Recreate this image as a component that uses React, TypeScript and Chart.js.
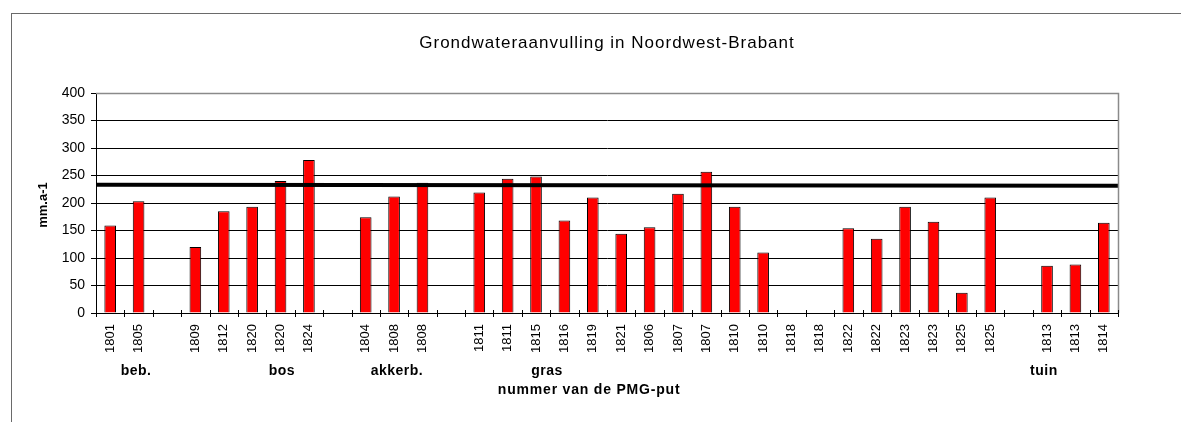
import { useEffect, useRef } from "react";
import { Chart, registerables } from "chart.js";

Chart.register(...registerables);

// ---- data ----
const categories: string[] = [
  "1801", "1805", "", "1809", "1812", "1820", "1820", "1824", "",
  "1804", "1808", "1808", "", "1811", "1811", "1815", "1816", "1819",
  "1821", "1806", "1807", "1807", "1810", "1810", "1818", "1818", "1822",
  "1822", "1823", "1823", "1825", "1825", "", "1813", "1813", "1814",
];

const recharge: (number | null)[] = [
  159, 203, null, 120, 185, 193, 240, 278, null,
  174, 212, 237, null, 219, 244, 248, 168, 210,
  144, 156, 217, 257, 193, 110, null, null, 154,
  135, 193, 166, 37, 210, null, 86, 88, 164,
];

const meanLineX: number[] = [0, 1];
const meanLineY: number[] = [233.3, 231.2];

const groupLabels: string[] = ["beb.", "bos", "akkerb.", "gras", "tuin"];

const yTickMin = 0;
const yTickMax = 400;
const yTickStep = 50;

const chartTitle = "Grondwateraanvulling in Noordwest-Brabant";
const yTitle = "mm.a-1";
const xTitle = "nummer van de PMG-put";

// ---- layout (positions in category-index units) ----
const groupAnchors: number[] = [0.91, 6.05, 10.1, 15.39, 32.89];
const xTitleAnchor = 16.87;

const FONT = "'Liberation Sans', Arial, sans-serif";

const decorPlugin = {
  id: "decor",
  afterDraw(chart: any) {
    const { ctx, chartArea, scales } = chart;
    const x = scales.x;
    const { left, right, top, bottom } = chartArea;
    ctx.save();
    // plot border top / right (gray)
    ctx.strokeStyle = "#8a8a8a";
    ctx.lineWidth = 1.5;
    ctx.beginPath();
    ctx.moveTo(left, top + 0.5);
    ctx.lineTo(right + 0.5, top + 0.5);
    ctx.lineTo(right + 0.5, bottom);
    ctx.stroke();

    // x tick marks at category boundaries (crossing)
    ctx.strokeStyle = "#000";
    ctx.lineWidth = 1;
    const n = categories.length;
    for (let i = 0; i <= n; i++) {
      const px = Math.round(x.getPixelForValue(i - 0.5)) + 0.5;
      ctx.beginPath();
      ctx.moveTo(px, bottom - 3);
      ctx.lineTo(px, bottom + 4);
      ctx.stroke();
    }

    ctx.fillStyle = "#000";
    ctx.textAlign = "center";
    ctx.textBaseline = "middle";

    // title
    ctx.font = `17px ${FONT}`;
    (ctx as any).letterSpacing = "1px";
    ctx.fillText(chartTitle, (left + right) / 2, 35);

    // y title
    (ctx as any).letterSpacing = "0px";
    ctx.save();
    ctx.translate(35, (top + bottom) / 2 + 2);
    ctx.rotate(-Math.PI / 2);
    ctx.font = `bold 13px ${FONT}`;
    ctx.fillText(yTitle, 0, 0);
    ctx.restore();

    // group labels
    ctx.font = `bold 14px ${FONT}`;
    (ctx as any).letterSpacing = "0.5px";
    groupLabels.forEach((g, i) => {
      ctx.fillText(g, x.getPixelForValue(groupAnchors[i]), 363);
    });
    // x title
    (ctx as any).letterSpacing = "0.8px";
    ctx.fillText(xTitle, x.getPixelForValue(xTitleAnchor), 382);
    (ctx as any).letterSpacing = "0px";
    ctx.restore();
  },
};

export default function App() {
  const ref = useRef<HTMLCanvasElement | null>(null);

  useEffect(() => {
    if (!ref.current) return;
    Chart.defaults.font.family = FONT;
    Chart.defaults.color = "#000";
    const chart = new Chart(ref.current, {
      type: "bar",
      data: {
        labels: categories,
        datasets: [
          {
            type: "line",
            data: meanLineX.map((v, i) => ({ x: v, y: meanLineY[i] })),
            xAxisID: "x2",
            borderColor: "#000",
            borderWidth: 4,
            pointRadius: 0,
            fill: false,
            clip: false,
            order: 0,
          } as any,
          {
            type: "bar",
            data: recharge,
            xAxisID: "x",
            backgroundColor: "#ff0000",
            borderColor: "#000",
            borderWidth: 1,
            barPercentage: 0.41,
            categoryPercentage: 1,
            grouped: false,
            order: 1,
          } as any,
        ],
      },
      options: {
        responsive: false,
        animation: false,
        layout: { padding: { left: 0, top: 85, right: 71, bottom: 0 } },
        plugins: {
          legend: { display: false },
          tooltip: { enabled: false },
          title: { display: false },
        },
        scales: {
          x: {
            type: "category",
            offset: true,
            grid: { display: true, drawOnChartArea: false, drawTicks: false, offset: true },
            border: { display: true, color: "#000", width: 1 },
            ticks: {
              autoSkip: false,
              minRotation: 90,
              maxRotation: 90,
              padding: 11,
              font: { size: 13 },
              color: "#000",
            },
            afterFit: (s: any) => {
              s.height = 109;
            },
          },
          x2: {
            type: "linear",
            display: false,
            offset: false,
            grid: { offset: false },
            min: 0,
            max: 1,
          },
          y: {
            min: yTickMin,
            max: yTickMax,
            ticks: { stepSize: yTickStep, padding: 6, font: { size: 14 }, color: "#000" },
            grid: {
              color: (c: any) => (c.tick && c.tick.value === yTickMax ? "#8a8a8a" : "#000"),
              lineWidth: 1,
              tickLength: 5,
              tickColor: "#000",
            },
            border: { display: true, color: "#000", width: 1 },
            afterFit: (s: any) => {
              s.width = 88;
            },
          },
        },
      },
      plugins: [decorPlugin],
    });
    return () => chart.destroy();
  }, []);

  return (
    <div style={{ position: "relative", width: 1181, height: 414, overflow: "hidden" }}>
      <div
        style={{
          position: "absolute",
          left: 3,
          top: 5,
          width: 1300,
          height: 600,
          border: "1px solid #6a6a6a",
          boxSizing: "border-box",
        }}
      />
      <canvas
        ref={ref}
        width={1181}
        height={414}
        style={{ position: "absolute", left: 0, top: 0, width: 1181, height: 414, display: "block" }}
      />
    </div>
  );
}
